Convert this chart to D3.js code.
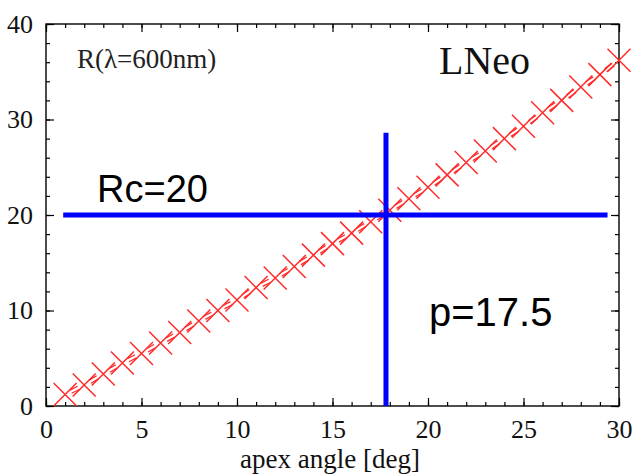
<!DOCTYPE html>
<html>
<head>
<meta charset="utf-8">
<script src="https://cdn.jsdelivr.net/npm/d3@7"></script>
<style>
  body { margin: 0; background: #fff; }
  svg { display: block; }
  .tick text { font-family: "Liberation Serif", "Times New Roman", serif; }
</style>
</head>
<body>
<svg id="chart"></svg>
<script>
// apex angle [deg] vs R at 600nm
const angles = d3.range(1, 31);
const radius = [1.2, 2.2, 3.35, 4.5, 5.5, 6.6, 7.7, 8.9, 10.0, 11.1,
                12.4, 13.4, 14.6, 15.8, 17.0, 18.1, 19.3, 20.5, 21.7, 22.9,
                24.2, 25.5, 26.7, 28.0, 29.3, 30.7, 32.0, 33.4, 34.7, 36.2];
const xTicks = [0, 5, 10, 15, 20, 25, 30];
const yTicks = [0, 10, 20, 30, 40];
// guide lines: Rc level and p angle
const rcLine = {y: 20, x0: 0.9, x1: 29.4};
const pLine = {x: 17.8, y0: 0, y1: 28.6};

const width = 635, height = 476;
const margin = {top: 24, right: 16, bottom: 70, left: 46};

const svg = d3.select('#chart')
    .attr('width', width)
    .attr('height', height);

const xScale = d3.scaleLinear().domain([0, 30]).range([margin.left, width - margin.right]);
const yScale = d3.scaleLinear().domain([0, 40]).range([height - margin.bottom, margin.top]);

const data = angles.map((a, i) => ({x: a, y: radius[i]}));

// inward ticks on all four sides
function axisGroup(axis, transform) {
    const g = svg.append('g').attr('transform', transform).call(axis);
    g.select('.domain').remove();
    g.selectAll('line').attr('stroke', '#000').attr('stroke-width', 1.2);
    return g;
}
const minorX = d3.range(0, 31, 1);
const minorY = d3.range(0, 41, 2);
const yb = yScale(0), yt = yScale(40), xl = xScale(0), xr = xScale(30);

axisGroup(d3.axisBottom(xScale).tickValues(minorX).tickSize(-4).tickFormat(''), `translate(0,${yb})`);
axisGroup(d3.axisTop(xScale).tickValues(minorX).tickSize(-4).tickFormat(''), `translate(0,${yt})`);
axisGroup(d3.axisLeft(yScale).tickValues(minorY).tickSize(-4).tickFormat(''), `translate(${xl},0)`);
axisGroup(d3.axisRight(yScale).tickValues(minorY).tickSize(-4).tickFormat(''), `translate(${xr},0)`);

const xAxisG = axisGroup(d3.axisBottom(xScale).tickValues(xTicks).tickSize(-8).tickPadding(14), `translate(0,${yb})`);
axisGroup(d3.axisTop(xScale).tickValues(xTicks).tickSize(-8).tickFormat(''), `translate(0,${yt})`);
const yAxisG = axisGroup(d3.axisLeft(yScale).tickValues(yTicks).tickSize(-8).tickPadding(13), `translate(${xl},0)`);
axisGroup(d3.axisRight(yScale).tickValues(yTicks).tickSize(-8).tickFormat(''), `translate(${xr},0)`);

xAxisG.selectAll('text').attr('font-size', 26).attr('fill', '#111');
yAxisG.selectAll('text').attr('font-size', 26).attr('fill', '#111');

// frame
svg.append('rect')
    .attr('x', xl).attr('y', yt)
    .attr('width', xr - xl).attr('height', yb - yt)
    .attr('fill', 'none').attr('stroke', '#000').attr('stroke-width', 1.4);

// dashed connecting segments (drawn as short double dashes between markers)
const red = '#ff2a2a';
const segs = d3.pairs(data);
[-1.8, 1.8].forEach(off => {
    svg.append('g').selectAll('line')
        .data(segs)
        .join('line')
        .each(function([a, b]) {
            const x0 = xScale(a.x), y0 = yScale(a.y), x1 = xScale(b.x), y1 = yScale(b.y);
            const len = Math.hypot(x1 - x0, y1 - y0);
            const nx = -(y1 - y0) / len * off, ny = (x1 - x0) / len * off;
            d3.select(this)
                .attr('x1', x0 + (x1 - x0) * 0.3 + nx).attr('y1', y0 + (y1 - y0) * 0.3 + ny)
                .attr('x2', x0 + (x1 - x0) * 0.7 + nx).attr('y2', y0 + (y1 - y0) * 0.7 + ny);
        })
        .attr('stroke', red).attr('stroke-width', 1.3);
});

// X markers
const s = 11.5;
svg.append('g').selectAll('path')
    .data(data)
    .join('path')
    .attr('d', d => {
        const cx = xScale(d.x), cy = yScale(d.y);
        return `M${cx - s},${cy - s}L${cx + s},${cy + s}M${cx - s},${cy + s}L${cx + s},${cy - s}`;
    })
    .attr('stroke', red).attr('stroke-width', 1.5).attr('fill', 'none');

// blue guide lines
svg.append('line')
    .attr('x1', xScale(rcLine.x0)).attr('x2', xScale(rcLine.x1))
    .attr('y1', yScale(rcLine.y)).attr('y2', yScale(rcLine.y))
    .attr('stroke', '#0000ff').attr('stroke-width', 5);
svg.append('line')
    .attr('x1', xScale(pLine.x)).attr('x2', xScale(pLine.x))
    .attr('y1', yScale(pLine.y0)).attr('y2', yScale(pLine.y1))
    .attr('stroke', '#0000ff').attr('stroke-width', 5);

// labels
svg.append('text')
    .attr('x', 77).attr('y', 68)
    .attr('font-family', '"Liberation Serif", "Times New Roman", serif')
    .attr('font-size', 27).attr('fill', '#222')
    .text('R(λ=600nm)');
svg.append('text')
    .attr('x', 439).attr('y', 74)
    .attr('font-family', '"Liberation Serif", "Times New Roman", serif')
    .attr('font-size', 40).attr('fill', '#111')
    .text('LNeo');
svg.append('text')
    .attr('x', 97).attr('y', 202)
    .attr('font-family', '"Liberation Sans", Arial, sans-serif')
    .attr('font-size', 38).attr('fill', '#000')
    .text('Rc=20');
svg.append('text')
    .attr('x', 429).attr('y', 326)
    .attr('font-family', '"Liberation Sans", Arial, sans-serif')
    .attr('font-size', 40).attr('fill', '#000')
    .text('p=17.5');
svg.append('text')
    .attr('x', 330).attr('y', 468)
    .attr('text-anchor', 'middle')
    .attr('font-family', '"Liberation Serif", "Times New Roman", serif')
    .attr('font-size', 27).attr('fill', '#111')
    .text('apex angle [deg]');
</script>
</body>
</html>
